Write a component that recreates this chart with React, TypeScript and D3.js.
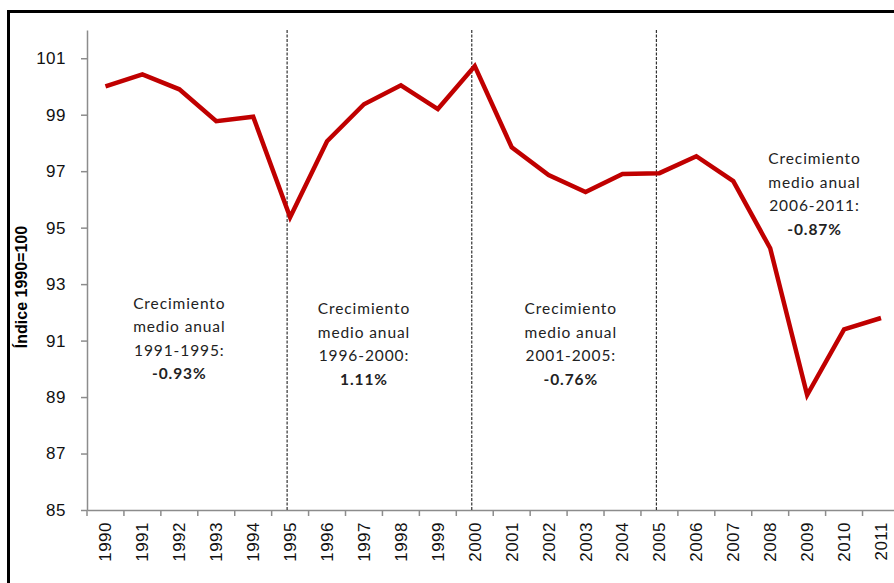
import React, { useEffect, useRef } from "react";
import * as d3 from "d3";

const years = [
  "1990", "1991", "1992", "1993", "1994", "1995", "1996", "1997", "1998", "1999", "2000",
  "2001", "2002", "2003", "2004", "2005", "2006", "2007", "2008", "2009", "2010", "2011",
];
const indexValues = [
  100.0, 100.43, 99.9, 98.77, 98.93, 95.37, 98.06, 99.37, 100.04, 99.2, 100.72,
  97.85, 96.86, 96.26, 96.9, 96.93, 97.53, 96.65, 94.27, 89.07, 91.4, 91.8,
];
const yTicks = [85, 87, 89, 91, 93, 95, 97, 99, 101];
const breakYears = ["1995", "2000", "2005"];
// anchor: year position (fractional) and index level of the first line
const notes = [
  { at: 1992.0, level: 92.12, lines: ["Crecimiento", "medio anual", "1991-1995:", "-0.93%"] },
  { at: 1997.0, level: 91.94, lines: ["Crecimiento", "medio anual", "1996-2000:", "1.11%"] },
  { at: 2002.6, level: 91.94, lines: ["Crecimiento", "medio anual", "2001-2005:", "-0.76%"] },
  { at: 2009.2, level: 97.25, lines: ["Crecimiento", "medio anual", "2006-2011:", "-0.87%"] },
];

const App = () => {
  const ref = useRef<SVGSVGElement>(null);

  useEffect(() => {
    const svg = d3.select(ref.current);
    svg.selectAll("*").remove();

    const left = 87;
    const top = 30;
    const bottom = 510;
    const step = 36.93;

    const x = d3
      .scaleBand()
      .domain(years)
      .range([left, left + step * years.length]);
    const y = d3.scaleLinear().domain([85, 102]).range([bottom, top]);
    const cx = (d: string) => (x(d) as number) + x.bandwidth() / 2;
    const xYear = d3
      .scaleLinear()
      .domain([+years[0], +years[years.length - 1]])
      .range([cx(years[0]), cx(years[years.length - 1])]);

    // frame
    svg
      .append("rect")
      .attr("x", 8.5)
      .attr("y", 11.5)
      .attr("width", 1000)
      .attr("height", 1000)
      .attr("fill", "none")
      .attr("stroke", "#000")
      .attr("stroke-width", 3);

    // y axis
    const yAxis = svg
      .append("g")
      .attr("transform", `translate(${left},0)`)
      .call(d3.axisLeft(y).tickValues(yTicks).tickSize(6).tickSizeOuter(0));
    yAxis.select(".domain").attr("stroke", "#8c8c8c").attr("stroke-width", 1.5);
    yAxis.selectAll(".tick line").attr("stroke", "#8c8c8c").attr("stroke-width", 1.5);
    yAxis
      .selectAll(".tick text")
      .attr("x", -21)
      .attr("fill", "#111")
      .style("font-family", "Arial, 'Liberation Sans', sans-serif")
      .style("font-size", "17px")
      .style("letter-spacing", "0.5px");

    // x axis
    const xAxis = svg
      .append("g")
      .attr("transform", `translate(0,${bottom})`)
      .call(d3.axisBottom(x).tickSize(0).tickSizeOuter(0));
    xAxis.select(".domain").attr("stroke", "#8c8c8c").attr("stroke-width", 1.5);
    xAxis
      .selectAll(".tick text")
      .attr("transform", "rotate(-90)")
      .attr("x", -12)
      .attr("y", 0)
      .attr("dy", "0.35em")
      .attr("text-anchor", "end")
      .attr("fill", "#111")
      .style("font-family", "Arial, 'Liberation Sans', sans-serif")
      .style("font-size", "17px")
      .style("letter-spacing", "0.5px");
    svg
      .append("g")
      .selectAll("line")
      .data(years)
      .join("line")
      .attr("x1", (d) => x(d) as number)
      .attr("x2", (d) => x(d) as number)
      .attr("y1", bottom)
      .attr("y2", bottom + 6)
      .attr("stroke", "#8c8c8c")
      .attr("stroke-width", 1.5);

    // dashed separators
    svg
      .append("g")
      .selectAll("line")
      .data(breakYears)
      .join("line")
      .attr("x1", (d) => cx(d) - 3)
      .attr("x2", (d) => cx(d) - 3)
      .attr("y1", top)
      .attr("y2", bottom)
      .attr("stroke", "#333")
      .attr("stroke-width", 1.2)
      .attr("stroke-dasharray", "3,1.5");

    // y axis title
    svg
      .append("text")
      .attr("transform", `translate(27,${(top + bottom) / 2 + 17}) rotate(-90)`)
      .attr("text-anchor", "middle")
      .style("font-family", "'Liberation Sans Narrow', Arial, sans-serif")
      .style("font-size", "16px")
      .style("font-weight", "bold")
      .text("Índice 1990=100");

    // line
    const line = d3
      .line<number>()
      .x((_, i) => cx(years[i]))
      .y((d) => y(d));
    svg
      .append("path")
      .datum(indexValues)
      .attr("d", line)
      .attr("fill", "none")
      .attr("stroke", "#c00000")
      .attr("stroke-width", 4.5)
      .attr("stroke-linejoin", "miter");

    // annotations
    notes.forEach((n) => {
      const mx = xYear(n.at);
      const t = svg
        .append("text")
        .attr("x", mx)
        .attr("y", y(n.level))
        .attr("text-anchor", "middle")
        .attr("fill", "#222")
        .style("font-family", "Lato, 'Open Sans', sans-serif")
        .style("font-size", "15.5px")
        .style("letter-spacing", "0.9px");
      n.lines.forEach((s, i) => {
        t.append("tspan")
          .attr("x", mx)
          .attr("dy", i === 0 ? 0 : 23.5)
          .style("font-weight", i === 3 ? "bold" : "normal")
          .text(s);
      });
    });
  }, []);

  return (
    <svg
      ref={ref}
      width={894}
      height={583}
      style={{ position: "absolute", left: 0, top: 0, background: "#fff" }}
    />
  );
};

export default App;
